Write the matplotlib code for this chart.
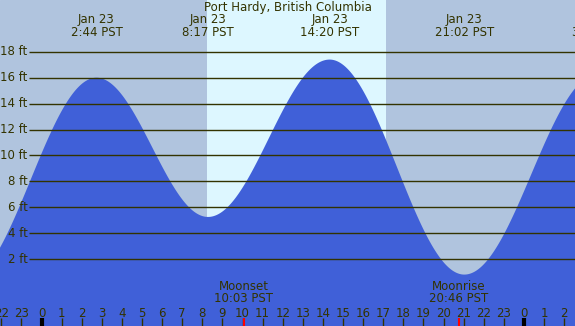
import numpy as np
import matplotlib
matplotlib.use("Agg")
import matplotlib.pyplot as plt

# tide extremes (hours from midnight Jan 23, feet)
ext_times = [-3.8, 2.733, 8.283, 14.333, 21.033, 27.7]
ext_heights = [0.3, 16.0, 5.25, 17.4, 0.8, 16.3]
ext_labels = ["", "Jan 23\n2:44 PST", "Jan 23\n8:17 PST", "Jan 23\n14:20 PST",
              "Jan 23\n21:02 PST", "Jan 24\n3:42 PST"]

sunrise, sunset = 8.23, 17.14
moon_events = [(10.05, "Moonset\n10:03 PST"), (20.77, "Moonrise\n20:46 PST")]
ft_levels = [2, 4, 6, 8, 10, 12, 14, 16, 18]
hours = list(range(-2, 27))

night_col = "#b0c4de"
day_col = "#ddf7ff"
tide_col = "#4060d8"
ink = "#333300"
fs = 8.5

# cosine interpolation between successive extremes
def tide(t):
    h = np.zeros_like(t)
    for i in range(len(ext_times) - 1):
        t0, t1 = ext_times[i], ext_times[i + 1]
        h0, h1 = ext_heights[i], ext_heights[i + 1]
        m = (t >= t0) & (t <= t1)
        f = (1 - np.cos(np.pi * (t[m] - t0) / (t1 - t0))) / 2
        h[m] = h0 + (h1 - h0) * f
    return h

x0, x1 = -2.065, 26.54
y0, y1 = -3.17, 22.0

fig = plt.figure(figsize=(5.75, 3.26), dpi=100)
ax = fig.add_axes([0, 0, 1, 1])
ax.set_xlim(x0, x1)
ax.set_ylim(y0, y1)
ax.axis("off")
ax.add_patch(plt.Rectangle((x0, y0), x1 - x0, y1 - y0, color=night_col, zorder=0))
ax.axvspan(sunrise, sunset, color=day_col, zorder=1, lw=0)

t = np.linspace(x0, x1, 2000)
ax.fill_between(t, y0, tide(t), color=tide_col, lw=0, zorder=2)

# horizontal height lines
gx = -0.622
ax.hlines(ft_levels, gx, x1, color=ink, lw=1, zorder=3)
for v in ft_levels:
    ax.text(gx - 0.08, v, f"{v} ft", ha="right", va="center", fontsize=fs, color=ink, zorder=4)

ax.text((x0 + x1) / 2, 21.45, "Port Hardy, British Columbia", ha="center", va="center",
        fontsize=fs, color=ink, zorder=4)
for tt, lab in zip(ext_times, ext_labels):
    if lab:
        ax.text(tt, 20.0, lab, ha="center", va="center", fontsize=fs, color=ink,
                linespacing=0.95, zorder=4)

# hour axis
for hr in hours:
    ax.text(hr, -2.2, str(hr % 24), ha="center", va="center", fontsize=fs, color=ink, zorder=4)
    thick = hr % 24 == 0
    ax.vlines(hr, y0, -2.55, color="black" if thick else ink, lw=3 if thick else 1, zorder=4)

for tt, lab in moon_events:
    ax.vlines(tt, y0, -2.55, color="red", lw=1.5, zorder=5)
    ax.text(tt, -0.6, lab, ha="center", va="center", fontsize=fs, color=ink,
            linespacing=0.95, zorder=4)

fig.savefig("out.png", dpi=100)
